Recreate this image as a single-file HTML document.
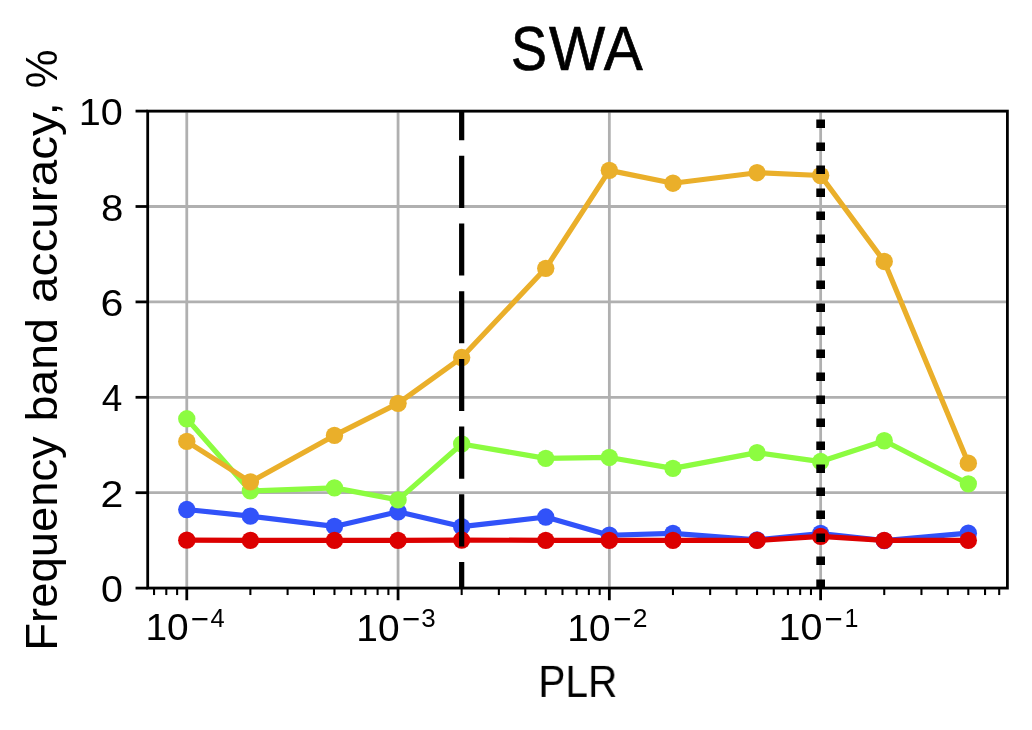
<!DOCTYPE html>
<html lang="en">
<head>
<meta charset="utf-8">
<title>SWA</title>
<style>
html,body{margin:0;padding:0;background:#ffffff;}
body{width:1032px;height:730px;overflow:hidden;}
svg{display:block;will-change:transform;}
.txt{filter:grayscale(1);}
text{font-family:"Liberation Sans",sans-serif;fill:#000000;}
</style>
</head>
<body>
<svg role="img" aria-label="SWA: frequency band accuracy versus PLR" width="1032" height="730" viewBox="0 0 1032 730">
<rect x="0" y="0" width="1032" height="730" fill="#ffffff"/>
<defs><clipPath id="ax"><rect x="147.70" y="111.10" width="859.70" height="477.00"/></clipPath></defs>
<g clip-path="url(#ax)" stroke="#b0b0b0" stroke-width="2.78" fill="none">
<line x1="186.78" y1="111.10" x2="186.78" y2="588.10"/>
<line x1="398.06" y1="111.10" x2="398.06" y2="588.10"/>
<line x1="609.35" y1="111.10" x2="609.35" y2="588.10"/>
<line x1="820.64" y1="111.10" x2="820.64" y2="588.10"/>
<line x1="147.70" y1="588.10" x2="1007.40" y2="588.10"/>
<line x1="147.70" y1="492.70" x2="1007.40" y2="492.70"/>
<line x1="147.70" y1="397.30" x2="1007.40" y2="397.30"/>
<line x1="147.70" y1="301.90" x2="1007.40" y2="301.90"/>
<line x1="147.70" y1="206.50" x2="1007.40" y2="206.50"/>
<line x1="147.70" y1="111.10" x2="1007.40" y2="111.10"/>
</g>
<g clip-path="url(#ax)">
<polyline points="186.78,509.54 250.38,516.17 334.46,526.42 398.06,511.83 461.67,526.57 545.75,517.03 609.35,535.25 672.96,533.44 757.04,539.92 820.64,533.48 884.24,540.64 968.32,533.15" fill="none" stroke="#3152F9" stroke-width="5.21" stroke-linejoin="round" stroke-linecap="square"/>
<g fill="#3152F9"><circle cx="186.78" cy="509.54" r="8.68"/><circle cx="250.38" cy="516.17" r="8.68"/><circle cx="334.46" cy="526.42" r="8.68"/><circle cx="398.06" cy="511.83" r="8.68"/><circle cx="461.67" cy="526.57" r="8.68"/><circle cx="545.75" cy="517.03" r="8.68"/><circle cx="609.35" cy="535.25" r="8.68"/><circle cx="672.96" cy="533.44" r="8.68"/><circle cx="757.04" cy="539.92" r="8.68"/><circle cx="820.64" cy="533.48" r="8.68"/><circle cx="884.24" cy="540.64" r="8.68"/><circle cx="968.32" cy="533.15" r="8.68"/></g>
<polyline points="186.78,418.77 250.38,490.94 334.46,487.93 398.06,499.90 461.67,443.95 545.75,458.36 609.35,457.45 672.96,468.33 757.04,452.63 820.64,461.55 884.24,440.75 968.32,483.83" fill="none" stroke="#8CFC40" stroke-width="5.21" stroke-linejoin="round" stroke-linecap="square"/>
<g fill="#8CFC40"><circle cx="186.78" cy="418.77" r="8.68"/><circle cx="250.38" cy="490.94" r="8.68"/><circle cx="334.46" cy="487.93" r="8.68"/><circle cx="398.06" cy="499.90" r="8.68"/><circle cx="461.67" cy="443.95" r="8.68"/><circle cx="545.75" cy="458.36" r="8.68"/><circle cx="609.35" cy="457.45" r="8.68"/><circle cx="672.96" cy="468.33" r="8.68"/><circle cx="757.04" cy="452.63" r="8.68"/><circle cx="820.64" cy="461.55" r="8.68"/><circle cx="884.24" cy="440.75" r="8.68"/><circle cx="968.32" cy="483.83" r="8.68"/></g>
<polyline points="186.78,441.42 250.38,481.92 334.46,435.41 398.06,403.36 461.67,357.52 545.75,268.32 609.35,170.34 672.96,183.22 757.04,172.73 820.64,175.50 884.24,261.45 968.32,463.13" fill="none" stroke="#EAAF2A" stroke-width="5.21" stroke-linejoin="round" stroke-linecap="square"/>
<g fill="#EAAF2A"><circle cx="186.78" cy="441.42" r="8.68"/><circle cx="250.38" cy="481.92" r="8.68"/><circle cx="334.46" cy="435.41" r="8.68"/><circle cx="398.06" cy="403.36" r="8.68"/><circle cx="461.67" cy="357.52" r="8.68"/><circle cx="545.75" cy="268.32" r="8.68"/><circle cx="609.35" cy="170.34" r="8.68"/><circle cx="672.96" cy="183.22" r="8.68"/><circle cx="757.04" cy="172.73" r="8.68"/><circle cx="820.64" cy="175.50" r="8.68"/><circle cx="884.24" cy="261.45" r="8.68"/><circle cx="968.32" cy="463.13" r="8.68"/></g>
<polyline points="186.78,540.16 250.38,540.40 334.46,540.40 398.06,540.40 461.67,540.02 545.75,540.40 609.35,540.40 672.96,540.40 757.04,540.40 820.64,536.35 884.24,540.40 968.32,540.40" fill="none" stroke="#DC0000" stroke-width="5.21" stroke-linejoin="round" stroke-linecap="square"/>
<g fill="#DC0000"><circle cx="186.78" cy="540.16" r="8.68"/><circle cx="250.38" cy="540.40" r="8.68"/><circle cx="334.46" cy="540.40" r="8.68"/><circle cx="398.06" cy="540.40" r="8.68"/><circle cx="461.67" cy="540.02" r="8.68"/><circle cx="545.75" cy="540.40" r="8.68"/><circle cx="609.35" cy="540.40" r="8.68"/><circle cx="672.96" cy="540.40" r="8.68"/><circle cx="757.04" cy="540.40" r="8.68"/><circle cx="820.64" cy="536.35" r="8.68"/><circle cx="884.24" cy="540.40" r="8.68"/><circle cx="968.32" cy="540.40" r="8.68"/></g>
<line x1="461.67" y1="88.10" x2="461.67" y2="648.10" stroke="#000" stroke-width="5.21" stroke-dasharray="52.08 15.62"/>
<line x1="820.64" y1="588.10" x2="820.64" y2="81.10" stroke="#000" stroke-width="8.68" stroke-dasharray="8.68 14.32"/>
</g>
<g stroke="#000" fill="none">
<g stroke-width="2.78">
<line x1="186.78" y1="588.10" x2="186.78" y2="600.25"/>
<line x1="398.06" y1="588.10" x2="398.06" y2="600.25"/>
<line x1="609.35" y1="588.10" x2="609.35" y2="600.25"/>
<line x1="820.64" y1="588.10" x2="820.64" y2="600.25"/>
<line x1="135.55" y1="588.10" x2="147.70" y2="588.10"/>
<line x1="135.55" y1="492.70" x2="147.70" y2="492.70"/>
<line x1="135.55" y1="397.30" x2="147.70" y2="397.30"/>
<line x1="135.55" y1="301.90" x2="147.70" y2="301.90"/>
<line x1="135.55" y1="206.50" x2="147.70" y2="206.50"/>
<line x1="135.55" y1="111.10" x2="147.70" y2="111.10"/>
</g>
<g stroke-width="2.08">
<line x1="154.05" y1="588.10" x2="154.05" y2="595.04"/>
<line x1="166.30" y1="588.10" x2="166.30" y2="595.04"/>
<line x1="177.11" y1="588.10" x2="177.11" y2="595.04"/>
<line x1="250.38" y1="588.10" x2="250.38" y2="595.04"/>
<line x1="287.59" y1="588.10" x2="287.59" y2="595.04"/>
<line x1="313.99" y1="588.10" x2="313.99" y2="595.04"/>
<line x1="334.46" y1="588.10" x2="334.46" y2="595.04"/>
<line x1="351.19" y1="588.10" x2="351.19" y2="595.04"/>
<line x1="365.34" y1="588.10" x2="365.34" y2="595.04"/>
<line x1="377.59" y1="588.10" x2="377.59" y2="595.04"/>
<line x1="388.40" y1="588.10" x2="388.40" y2="595.04"/>
<line x1="461.67" y1="588.10" x2="461.67" y2="595.04"/>
<line x1="498.87" y1="588.10" x2="498.87" y2="595.04"/>
<line x1="525.27" y1="588.10" x2="525.27" y2="595.04"/>
<line x1="545.75" y1="588.10" x2="545.75" y2="595.04"/>
<line x1="562.48" y1="588.10" x2="562.48" y2="595.04"/>
<line x1="576.62" y1="588.10" x2="576.62" y2="595.04"/>
<line x1="588.88" y1="588.10" x2="588.88" y2="595.04"/>
<line x1="599.68" y1="588.10" x2="599.68" y2="595.04"/>
<line x1="672.96" y1="588.10" x2="672.96" y2="595.04"/>
<line x1="710.16" y1="588.10" x2="710.16" y2="595.04"/>
<line x1="736.56" y1="588.10" x2="736.56" y2="595.04"/>
<line x1="757.04" y1="588.10" x2="757.04" y2="595.04"/>
<line x1="773.77" y1="588.10" x2="773.77" y2="595.04"/>
<line x1="787.91" y1="588.10" x2="787.91" y2="595.04"/>
<line x1="800.16" y1="588.10" x2="800.16" y2="595.04"/>
<line x1="810.97" y1="588.10" x2="810.97" y2="595.04"/>
<line x1="884.24" y1="588.10" x2="884.24" y2="595.04"/>
<line x1="921.45" y1="588.10" x2="921.45" y2="595.04"/>
<line x1="947.85" y1="588.10" x2="947.85" y2="595.04"/>
<line x1="968.32" y1="588.10" x2="968.32" y2="595.04"/>
<line x1="985.05" y1="588.10" x2="985.05" y2="595.04"/>
<line x1="999.20" y1="588.10" x2="999.20" y2="595.04"/>
</g>
<rect x="147.70" y="111.10" width="859.70" height="477.00" stroke-width="2.78" stroke-linejoin="miter"/>
</g>
<g class="txt">
<g id="title" stroke="#000" stroke-width="0.7"><text transform="translate(511.11,69.70) scale(0.8543,1.0000)" font-size="63.04">S</text><text transform="translate(548.90,69.70) scale(0.9449,1.0000)" font-size="63.04">W</text><text transform="translate(603.80,69.70) scale(0.9277,1.0000)" font-size="63.04">A</text></g>
<text transform="translate(538.35,696.90) scale(0.9157,1.0000)" font-size="44.35">PLR</text>
<g id="ylabel"><text transform="translate(56.50,650.63) rotate(-90) scale(1.0235,1)" font-size="44.35">Frequency</text> <text transform="translate(56.50,421.56) rotate(-90) scale(1.0498,1)" font-size="44.35">band</text> <text transform="translate(56.50,302.91) rotate(-90) scale(1.0755,1)" font-size="44.35">accuracy,</text> <text transform="translate(56.50,88.24) rotate(-90) scale(0.9827,1)" font-size="44.35">%</text></g>
<text transform="translate(101.02,602.10) scale(1.0781,1.0000)" font-size="36.52">0</text>
<text transform="translate(100.55,506.70) scale(1.1250,1.0000)" font-size="36.52">2</text>
<text transform="translate(101.86,411.30) scale(1.0147,1.0000)" font-size="36.52">4</text>
<text transform="translate(100.55,315.90) scale(1.1250,1.0000)" font-size="36.52">6</text>
<text transform="translate(100.99,220.50) scale(1.1011,1.0000)" font-size="36.52">8</text>
<text transform="translate(78.83,125.10) scale(1.0842,1.0000)" font-size="36.52">10</text>
<g class="xt"><text transform="translate(145.47,640.10) scale(1.0648,1.0000)" font-size="36.52">10</text><text transform="translate(190.42,629.82) scale(1.1969,1.2500)" font-size="26.09">−</text><text transform="translate(210.47,627.20) scale(0.9771,1.0000)" font-size="26.09">4</text></g>
<g class="xt"><text transform="translate(356.35,641.00) scale(1.0648,1.0000)" font-size="36.52">10</text><text transform="translate(401.70,629.82) scale(1.1969,1.2500)" font-size="26.09">−</text><text transform="translate(421.33,627.20) scale(0.9950,1.0000)" font-size="26.09">3</text></g>
<g class="xt"><text transform="translate(567.35,641.00) scale(1.0620,1.0000)" font-size="36.52">10</text><text transform="translate(612.99,629.82) scale(1.1969,1.2500)" font-size="26.09">−</text><text transform="translate(632.63,627.20) scale(1.0167,1.0000)" font-size="26.09">2</text></g>
<g class="xt"><text transform="translate(778.48,640.10) scale(1.0814,1.0000)" font-size="36.52">10</text><text transform="translate(824.28,629.82) scale(1.1969,1.2500)" font-size="26.09">−</text><text transform="translate(844.43,627.20) scale(0.9628,1.0000)" font-size="26.09">1</text></g>
</g>
</svg>
</body>
</html>
